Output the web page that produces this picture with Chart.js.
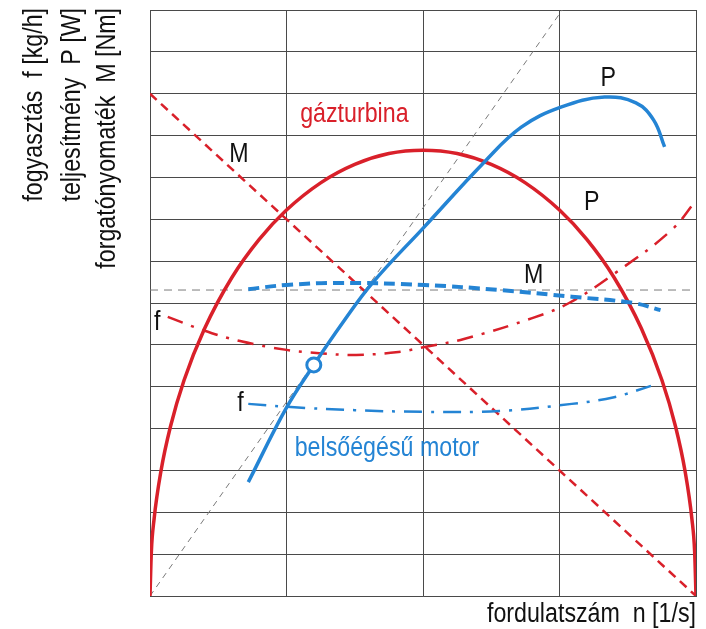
<!DOCTYPE html>
<html>
<head>
<meta charset="utf-8">
<script src="https://cdn.jsdelivr.net/npm/chart.js@4.4.1/dist/chart.umd.min.js"></script>
<style>
  html, body { margin: 0; padding: 0; background: #fff; }
  #wrap { width: 706px; height: 629px; }
</style>
</head>
<body>
<div id="wrap"><canvas id="chart" width="706" height="629"></canvas></div>
<script>
// gázturbina (red)
const gtPowerX = [0, 0.01, 0.03, 0.08, 0.15, 0.25, 0.4, 0.6, 0.8, 1.0, 1.25, 1.5, 1.75, 2.0, 2.25, 2.5, 2.75, 3.0, 3.2, 3.4, 3.6, 3.75, 3.85, 3.92, 3.97, 3.99, 4.0];
const gtPowerY = [0, 1.06, 1.84, 2.98, 4.05, 5.16, 6.39, 7.61, 8.52, 9.22, 9.87, 10.31, 10.57, 10.65, 10.57, 10.31, 9.87, 9.22, 8.52, 7.61, 6.39, 5.16, 4.05, 2.98, 1.84, 1.06, 0];
const gtTorqueX = [0, 4];
const gtTorqueY = [12, 0];
const gtFuelX = [0.13, 0.39, 0.66, 1.0, 1.24, 1.51, 1.82, 2.01, 2.3, 2.8, 3.07, 3.41, 3.82, 4.0];
const gtFuelY = [6.67, 6.35, 6.09, 5.88, 5.8, 5.76, 5.83, 5.95, 6.14, 6.64, 7.0, 7.72, 8.74, 9.45];

// belsőégésű motor (blue)
const icePowerX = [0.72, 1.0, 1.2, 1.41, 1.63, 2.01, 2.45, 2.72, 3.01, 3.33, 3.56, 3.69, 3.77];
const icePowerY = [2.72, 4.5, 5.52, 6.52, 7.48, 8.82, 10.37, 11.2, 11.68, 11.92, 11.78, 11.37, 10.73];
const iceTorqueX = [0.72, 1.0, 1.4, 2.01, 2.56, 3.09, 3.54, 3.74];
const iceTorqueY = [7.33, 7.43, 7.48, 7.43, 7.31, 7.15, 7.0, 6.83];
const iceFuelX = [0.72, 1.0, 1.5, 2.01, 2.56, 3.09, 3.4, 3.67];
const iceFuelY = [4.59, 4.52, 4.44, 4.40, 4.42, 4.59, 4.75, 5.02];
const minFuelPoint = [1.2, 5.52];

// helper lines (gray dashed)
const tangentX = [0, 3.02];
const tangentY = [0, 14];
const levelX = [0, 4];
const levelY = [7.31, 7.31];

const xMax = 4;
const yMax = 14;

const RED = '#d9202a';
const BLUE = '#2484d4';
const GRAY = '#7a7a7a';
const FONT = '"Liberation Sans", Arial, sans-serif';

function pts(xs, ys) {
  return xs.map((x, i) => ({ x, y: ys[i] }));
}

function line(data, color, width, dash, order, extra) {
  return Object.assign({
    data,
    borderColor: color,
    borderWidth: width,
    borderDash: dash,
    pointRadius: 0,
    fill: false,
    tension: 0.4,
    order,
  }, extra || {});
}

const labels = [
  { text: 'gázturbina', x: 1.10, y: 11.32, color: RED },
  { text: 'belsőégésű motor', x: 1.06, y: 3.34, color: BLUE },
  { text: 'M', x: 0.58, y: 10.37, color: '#111' },
  { text: 'P', x: 3.30, y: 12.18, color: '#111' },
  { text: 'P', x: 3.18, y: 9.22, color: '#111' },
  { text: 'M', x: 2.74, y: 7.48, color: '#111' },
  { text: 'f', x: 0.03, y: 6.35, color: '#111' },
  { text: 'f', x: 0.64, y: 4.42, color: '#111' },
];

const yTitles = [
  { text: 'fogyasztás  f [kg/h]', x: 35 },
  { text: 'teljesítmény  P [W]', x: 73 },
  { text: 'forgatónyomaték  M [Nm]', x: 108 },
];

function drawText(ctx, text, x, y, color, align, baseline, rot) {
  ctx.save();
  ctx.translate(x, y);
  if (rot) ctx.rotate(rot);
  ctx.scale(0.86, 1);
  ctx.font = '27px ' + FONT;
  ctx.fillStyle = color;
  ctx.textAlign = align;
  ctx.textBaseline = baseline;
  ctx.fillText(text, 0, 0);
  ctx.restore();
}

const textPlugin = {
  id: 'texts',
  afterDraw(chart) {
    const ctx = chart.ctx;
    const xs = chart.scales.x, ys = chart.scales.y;
    labels.forEach(l => {
      drawText(ctx, l.text, xs.getPixelForValue(l.x), ys.getPixelForValue(l.y), l.color, 'left', 'alphabetic');
    });
    yTitles.forEach(t => {
      drawText(ctx, t.text, t.x, chart.chartArea.top - 2, '#111', 'right', 'middle', -Math.PI / 2);
    });
    drawText(ctx, 'fordulatszám  n [1/s]', chart.chartArea.right, 622, '#111', 'right', 'alphabetic');
  },
};

new Chart(document.getElementById('chart'), {
  type: 'line',
  data: {
    datasets: [
      line(pts(tangentX, tangentY), GRAY, 1, [6, 5], 10, { tension: 0 }),
      line(pts(levelX, levelY), GRAY, 1, [8, 6], 10, { tension: 0 }),
      line(pts(gtTorqueX, gtTorqueY), RED, 2.5, [9, 6], 5, { tension: 0 }),
      line(pts(gtFuelX, gtFuelY), RED, 2.5, [16, 9, 3, 9], 5),
      line(pts(gtPowerX, gtPowerY), RED, 3.5, [], 4, { cubicInterpolationMode: 'monotone' }),
      line(pts(iceTorqueX, iceTorqueY), BLUE, 4, [11, 6], 3),
      line(pts(iceFuelX, iceFuelY), BLUE, 2.5, [18, 9, 3, 9], 3),
      line(pts(icePowerX, icePowerY), BLUE, 3.5, [], 2),
      {
        type: 'scatter',
        data: [{ x: minFuelPoint[0], y: minFuelPoint[1] }],
        pointRadius: 7,
        pointBorderWidth: 3,
        pointBackgroundColor: '#fff',
        pointBorderColor: BLUE,
        showLine: false,
        order: 0,
      },
    ],
  },
  options: {
    responsive: false,
    animation: false,
    events: [],
    layout: { padding: { left: 150, right: 8, top: 10, bottom: 33 } },
    plugins: { legend: { display: false }, tooltip: { enabled: false } },
    scales: {
      x: {
        type: 'linear', min: 0, max: xMax,
        ticks: { display: false, stepSize: 1 },
        grid: { color: '#4a4a4a', lineWidth: 1, drawTicks: false },
        border: { color: '#4a4a4a' },
        afterFit(s) { s.height = 0; },
      },
      y: {
        type: 'linear', min: 0, max: yMax,
        ticks: { display: false, stepSize: 1 },
        grid: { color: '#4a4a4a', lineWidth: 1, drawTicks: false },
        border: { color: '#4a4a4a' },
        afterFit(s) { s.width = 0; },
      },
    },
  },
  plugins: [textPlugin],
});
</script>
</body>
</html>
